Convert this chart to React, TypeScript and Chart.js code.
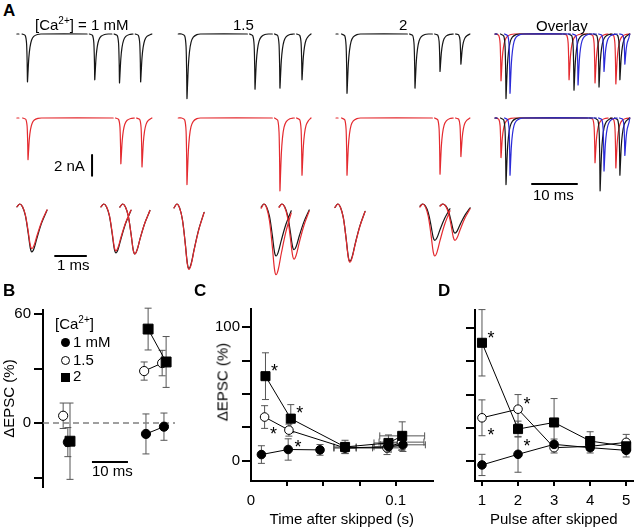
import React, { useEffect, useRef } from "react";
import { Chart, registerables } from "chart.js";

Chart.register(...registerables);

const FONT = "'Liberation Sans', Arial, Helvetica, sans-serif";
Chart.defaults.font.family = FONT;
Chart.defaults.font.size = 15;
Chart.defaults.color = "#000";

// ================= Panel A : EPSC trains =================
// peak time (ms from sweep start) and amplitude (nA)
// Row 1 (regular trains, black)
const row1Time1mM = [2.55, 17.5, 23.0, 27.7];
const row1Amp1mM = [4.6, 4.4, 4.7, 4.6];
const row1Time15mM = [2.44, 17.56, 23.1, 28.0];
const row1Amp15mM = [6.2, 5.3, 5.2, 4.4];
const row1Time2mM = [2.89, 18.0, 23.56, 28.2];
const row1Amp2mM = [5.7, 5.2, 3.6, 2.9];
// Row 2 (trains with a skipped stimulus, red)
const row2Time1mM = [2.67, 23.3, 28.0];
const row2Amp1mM = [4.0, 4.4, 4.7];
const row2Time15mM = [2.44, 23.1, 28.0];
const row2Amp15mM = [6.4, 7.0, 5.5];
const row2Time2mM = [2.89, 23.56, 28.2];
const row2Amp2mM = [5.5, 5.4, 3.7];
// Overlay (red 1 mM, black 1.5 mM, blue 2 mM)
const ovl1TimeRed = [1.78, 16.9, 22.67, 27.3];
const ovl1AmpRed = [4.5, 4.4, 4.7, 4.8];
const ovl1TimeBlack = [2.89, 18.0, 23.56, 28.2];
const ovl1AmpBlack = [6.2, 5.4, 5.1, 4.4];
const ovl1TimeBlue = [3.78, 18.9, 24.67, 29.3];
const ovl1AmpBlue = [5.7, 4.9, 3.6, 2.9];
const ovl2TimeRed = [1.78, 22.67, 27.3];
const ovl2AmpRed = [3.8, 4.3, 4.8];
const ovl2TimeBlack = [2.89, 23.8, 28.2];
const ovl2AmpBlack = [6.4, 7.0, 5.5];
const ovl2TimeBlue = [3.78, 24.67, 29.3];
const ovl2AmpBlue = [5.5, 5.1, 3.6];
// sweep windows (ms) per column
const sweepStart = [0.2, 0.5, 0.45, 0.45];
const sweepEnd = [30.2, 30.0, 30.2, 30.4];
// EPSC waveform (ms from peak, fraction of amplitude)
const epscShapeT = [-1.2, -0.5, -0.2, -0.07, 0, 0.12, 0.3, 0.55, 0.9, 1.4, 2.2, 3.0];
const epscShapeV = [0, -0.03, -0.2, -0.6, -1, -0.8, -0.5, -0.28, -0.13, -0.05, -0.01, 0];

// Row 3 : expanded EPSCs (onset ms, amplitude nA), black = regular, red = after skip
const zoomOnset1mM = [0.16, 2.87, 3.48];
const zoomAmpBlack1mM = [4.6, 4.7, 4.8];
const zoomAmpRed1mM = [4.3, 4.5, 4.8];
const zoomOnset15mM = [0.13, 2.94, 3.52];
const zoomAmpBlack15mM = [6.2, 5.0, 4.4];
const zoomAmpRed15mM = [6.3, 6.8, 5.3];
const zoomOnset2mM = [0.16, 2.9, 3.55];
const zoomAmpBlack2mM = [5.5, 3.5, 2.8];
const zoomAmpRed2mM = [5.6, 5.0, 3.5];
const zoomShapeT = [0, 0.09, 0.18, 0.27, 0.36, 0.43, 0.48, 0.55, 0.65, 0.8, 0.97];
const zoomShapeV = [-0.06, 0, -0.06, -0.24, -0.6, -0.92, -1, -0.93, -0.7, -0.39, -0.13];

// scale bars
const barCurrentNA = 2;
const barTrainMs = 10;
const barZoomMs = 1;
const barBMs = 10;

// ================= Panel B =================
const b1mMTime = [6.9, 28.6, 33.6];
const b1mMVal = [-10.5, -6, -2];
const b1mMErr = [8, 11, 7.5];
const b15Time = [5.6, 28.1, 33.1];
const b15Val = [4, 28.6, 33];
const b15Err = [7, 5, 7];
const b2Time = [7.5, 29.2, 34.2];
const b2Val = [-10, 51.7, 33.6];
const b2Err = [21, 11.5, 14];
const bYTicks = [-30, 0, 30, 60];
const bYLabels = [0, 60];

// ================= Panel C =================
const c1mMTime = [0.0072, 0.0257, 0.0477, 0.065, 0.095, 0.105];
const c1mMVal = [4.7, 8.5, 8.2, 9.7, 10.5, 12];
const c1mMErr = [6.6, 8, 4, 4, 4, 5];
const c1mMTimeErr = [0, 0, 0, 0.0077, 0.01, 0.0155];
const c15Time = [0.0094, 0.0262, 0.065, 0.094, 0.104];
const c15Val = [32.8, 23, 9.7, 9.7, 14];
const c15Err = [8.5, 4.5, 4, 5, 6];
const c15TimeErr = [0, 0, 0.0077, 0.01, 0.0155];
const c2Time = [0.01, 0.0275, 0.065, 0.095, 0.1045];
const c2Val = [63.4, 31.6, 10.4, 13.4, 18.7];
const c2Err = [17.5, 10.5, 5, 6, 10.5];
const c2TimeErr = [0, 0, 0.0077, 0.01, 0.0155];
const c15StarsBelow = [0, 1];
const c2StarsAbove = [0, 1];
const cXTicks = [0, 0.025, 0.05, 0.075, 0.1];
const cXLabels = [0, 0.1];
const cYTicks = [0, 25, 50, 75, 100];
const cYLabels = [0, 100];

// ================= Panel D =================
const dPulse = [1, 2, 3, 4, 5];
const d1mMVal = [-3, 5, 12.5, 10, 8];
const d1mMErr = [8, 13.5, 4, 4, 5];
const d15Val = [32.5, 39, 10, 11, 14];
const d15Err = [13.5, 11, 4, 3, 6];
const d2Val = [89, 24, 29, 15, 11];
const d2Err = [25, 6, 18, 7, 5];
const d15StarsBelow = [0];
const d15StarsAbove = [1];
const d2StarsAbove = [0];
const d2StarsBelow = [1];
const dYTicks = [0, 25, 50, 75, 100];

// ================= styles / layout =================
const BLACK = "#161616";
const RED = "#e42a2f";
const BLUE = "#2a2ad8";
const PX_NA = 10.4;
const PX_MS_TRAIN = 4.5;
const PX_MS_ZOOM = 31;
const COL_X = [16, 176, 334, 493];
const ZOOM_X = [12, 170, 330];
const ROW1 = { top: 24, height: 80, base: 34 };
const ROW2 = { top: 106, height: 92, base: 118 };
const ROW3 = { top: 194, height: 92, base: 204 };

type P = { x: number; y: number | null; ey?: number; ex?: number; star?: string };

function sweepPoints(times: number[], amps: number[], start: number, end: number): P[] {
  const pts: P[] = [];
  const gap = 0.5;
  const lead = epscShapeT[0];
  let segStart = start;
  if (times[0] + lead - start > 0.9) {
    pts.push({ x: start, y: 0 }, { x: start + 0.45, y: 0 }, { x: start + 0.5, y: null });
    segStart = times[0] + lead;
  }
  for (let k = 0; k < times.length; k++) {
    const s = k === 0 ? segStart : times[k] + lead;
    const e = k < times.length - 1 ? times[k + 1] + lead - gap : end;
    pts.push({ x: s, y: 0 });
    for (let i = 0; i < epscShapeT.length; i++) {
      const x = times[k] + epscShapeT[i];
      if (x <= s || x >= e) continue;
      pts.push({ x, y: epscShapeV[i] * amps[k] });
    }
    pts.push({ x: e, y: 0 });
    if (k < times.length - 1) pts.push({ x: e + gap / 2, y: null });
  }
  return pts;
}

function zoomPoints(onsets: number[], amps: number[]): P[] {
  const pts: P[] = [];
  onsets.forEach((t0, k) => {
    if (k > 0) pts.push({ x: t0, y: null });
    zoomShapeT.forEach((dt, i) => pts.push({ x: t0 + dt, y: zoomShapeV[i] * amps[k] }));
  });
  return pts;
}

function traceDs(data: P[], color: string, width = 1.2) {
  return { data, borderColor: color, borderWidth: width, pointRadius: 0, fill: false };
}

function TraceChart(props: {
  origin: number; lead: number; width: number; row: { top: number; height: number; base: number };
  pxPerMs: number; datasets: any[]; tension: number;
}) {
  const ref = useRef<HTMLCanvasElement>(null);
  const { origin, lead, width, row, pxPerMs, tension } = props;
  useEffect(() => {
    const xMin = -lead / pxPerMs;
    const xMax = xMin + width / pxPerMs;
    const yMax = (row.base - row.top) / PX_NA;
    const yMin = yMax - row.height / PX_NA;
    const chart = new Chart(ref.current as HTMLCanvasElement, {
      type: "line",
      data: { datasets: props.datasets },
      options: {
        responsive: false,
        animation: false,
        events: [],
        layout: { padding: 0 },
        spanGaps: false,
        plugins: { legend: { display: false }, tooltip: { enabled: false } },
        scales: {
          x: { type: "linear", display: false, min: xMin, max: xMax },
          y: { type: "linear", display: false, min: yMin, max: yMax },
        },
        elements: { point: { radius: 0 }, line: { tension, borderJoinStyle: "round", borderCapStyle: "round" } },
      },
    } as any);
    return () => chart.destroy();
  }, []);
  return (
    <canvas
      ref={ref}
      width={width}
      height={row.height}
      style={{ position: "absolute", left: origin - lead, top: row.top, width, height: row.height }}
    />
  );
}

// ---------- error bars + asterisks ----------
const errorBarPlugin = {
  id: "errorBars",
  beforeDatasetsDraw(chart: any) {
    const ctx = chart.ctx;
    const xs = chart.scales.x;
    const ys = chart.scales.y;
    const cap = 3.5;
    ctx.save();
    ctx.strokeStyle = "#555";
    ctx.lineWidth = 1;
    chart.data.datasets.forEach((ds: any) => {
      ds.data.forEach((p: P) => {
        if (p.y == null) return;
        const px = xs.getPixelForValue(p.x);
        const py = ys.getPixelForValue(p.y);
        if (p.ey) {
          const t = ys.getPixelForValue(p.y + p.ey);
          const b = ys.getPixelForValue(p.y - p.ey);
          ctx.beginPath();
          ctx.moveTo(px, t); ctx.lineTo(px, b);
          ctx.moveTo(px - cap, t); ctx.lineTo(px + cap, t);
          ctx.moveTo(px - cap, b); ctx.lineTo(px + cap, b);
          ctx.stroke();
        }
        if (p.ex) {
          const l = xs.getPixelForValue(p.x - p.ex);
          const r = xs.getPixelForValue(p.x + p.ex);
          ctx.beginPath();
          ctx.moveTo(l, py); ctx.lineTo(r, py);
          ctx.moveTo(l, py - cap); ctx.lineTo(l, py + cap);
          ctx.moveTo(r, py - cap); ctx.lineTo(r, py + cap);
          ctx.stroke();
        }
      });
    });
    ctx.restore();
  },
};

const starPlugin = {
  id: "stars",
  afterDatasetsDraw(chart: any) {
    const ctx = chart.ctx;
    const xs = chart.scales.x;
    const ys = chart.scales.y;
    const size = 18;
    ctx.save();
    ctx.fillStyle = "#000";
    ctx.font = `${size}px ${FONT}`;
    ctx.textAlign = "center";
    ctx.textBaseline = "alphabetic";
    chart.data.datasets.forEach((ds: any) => {
      ds.data.forEach((p: P) => {
        if (p.y == null || !p.star) return;
        const px = xs.getPixelForValue(p.x);
        const py = ys.getPixelForValue(p.y);
        const dx = 9;
        const dy = p.star === "up" ? -10 : 12;
        ctx.fillText("*", px + dx, py + dy + size * 0.6);
      });
    });
    ctx.restore();
  },
};

function seriesDs(
  xs: number[], ys: number[], errs: number[], style: "filled" | "open" | "square", order: number,
  extra: { xerrs?: number[]; breakAfter?: number; up?: number[]; down?: number[]; big?: boolean } = {}
) {
  const data: P[] = [];
  xs.forEach((x, i) => {
    data.push({
      x, y: ys[i], ey: errs[i], ex: extra.xerrs ? extra.xerrs[i] : 0,
      star: extra.up && extra.up.includes(i) ? "up" : extra.down && extra.down.includes(i) ? "down" : undefined,
    });
    if (extra.breakAfter === i) data.push({ x: (x + xs[i + 1]) / 2, y: null });
  });
  return {
    data,
    showLine: true,
    borderColor: "#000",
    borderWidth: 1,
    tension: 0,
    pointStyle: style === "square" ? "rect" : "circle",
    pointRadius: style === "square" ? (extra.big ? 7 : 6.4) : extra.big ? 4.6 : 4.3,
    pointBackgroundColor: style === "open" ? "#fff" : "#000",
    pointBorderColor: "#000",
    pointBorderWidth: 1,
    order,
  };
}

function axisCommon(ticks: number[], labels: number[], tickLength: number, hideZero = false) {
  return {
    afterBuildTicks: (ax: any) => {
      ax.ticks = ticks.map((v) => ({ value: v }));
    },
    ticks: {
      callback: (v: any) => (labels.includes(v) ? String(v) : ""),
      autoSkip: false,
      maxRotation: 0,
      color: "#000",
      font: { size: 15, family: FONT },
    },
    grid: {
      drawOnChartArea: false,
      drawTicks: true,
      tickLength,
      lineWidth: 2,
      color: (c: any) => (hideZero && c.tick && c.tick.value === 0 ? "rgba(0,0,0,0)" : "#000"),
    },
    border: { display: true, color: "#000", width: 2 },
  };
}

function PanelChart(props: { left: number; top: number; width: number; height: number; make: () => any }) {
  const ref = useRef<HTMLCanvasElement>(null);
  useEffect(() => {
    const chart = new Chart(ref.current as HTMLCanvasElement, props.make());
    return () => chart.destroy();
  }, []);
  const { left, top, width, height } = props;
  return <canvas ref={ref} width={width} height={height} style={{ position: "absolute", left, top, width, height }} />;
}

const baseOptions = {
  responsive: false,
  animation: false,
  events: [],
  spanGaps: false,
  plugins: { legend: { display: false }, tooltip: { enabled: false } },
};

function makeB() {
  const xMax = 132 / 3.6;
  const yA = axisCommon(bYTicks, bYLabels, 9);
  return {
    type: "line",
    data: {
      datasets: [
        seriesDs(b1mMTime, b1mMVal, b1mMErr, "filled", 2, { breakAfter: 0, big: true }),
        seriesDs(b15Time, b15Val, b15Err, "open", 3, { breakAfter: 0, big: true }),
        seriesDs(b2Time, b2Val, b2Err, "square", 1, { breakAfter: 0, big: true }),
        {
          data: [{ x: 0, y: 0 }, { x: xMax, y: 0 }],
          borderColor: "#808080", borderWidth: 1.5, borderDash: [6, 4], pointRadius: 0, order: 9,
        },
        {
          data: [{ x: 13.6, y: -21.5 }, { x: 13.6 + barBMs, y: -21.5 }],
          borderColor: "#000", borderWidth: 2, pointRadius: 0, order: 8,
        },
      ],
    },
    options: {
      ...baseOptions,
      layout: { padding: { top: 12, bottom: 13, right: 10, left: 0 } },
      scales: {
        x: { type: "linear", display: false, min: 0, max: xMax },
        y: {
          type: "linear", min: -35.2, max: 62.2, ...yA,
          ticks: { ...yA.ticks, padding: 3 },
          afterFit: (ax: any) => { ax.width = 43; },
          title: { display: true, text: "ΔEPSC (%)", color: "#000", font: { size: 15, family: FONT }, padding: { top: 1, bottom: 0 } },
        },
      },
    },
    plugins: [errorBarPlugin, starPlugin],
  };
}

function makeC() {
  const yA = axisCommon(cYTicks, cYLabels, 9);
  const xA = axisCommon(cXTicks, cXLabels, 5, true);
  return {
    type: "line",
    data: {
      datasets: [
        seriesDs(c1mMTime, c1mMVal, c1mMErr, "filled", 1, { xerrs: c1mMTimeErr, breakAfter: 2 }),
        seriesDs(c15Time, c15Val, c15Err, "open", 3, { xerrs: c15TimeErr, down: c15StarsBelow }),
        seriesDs(c2Time, c2Val, c2Err, "square", 2, { xerrs: c2TimeErr, up: c2StarsAbove }),
      ],
    },
    options: {
      ...baseOptions,
      layout: { padding: { top: 10, bottom: 0, right: 2, left: 0 } },
      scales: {
        x: {
          type: "linear", min: 0, max: 187 / 1490, ...xA,
          ticks: { ...xA.ticks, padding: 6 },
          afterFit: (ax: any) => { ax.height = 49; },
          title: { display: true, text: "Time after skipped (s)", color: "#000", font: { size: 15, family: FONT }, padding: { top: 0, bottom: 1 } },
        },
        y: {
          type: "linear", min: -15.1, max: 113.7, ...yA,
          ticks: { ...yA.ticks, padding: 2 },
          afterFit: (ax: any) => { ax.width = 61; },
        },
      },
    },
    plugins: [errorBarPlugin, starPlugin],
  };
}

function makeD() {
  const yA = axisCommon(dYTicks, [], 9);
  const xA = axisCommon(dPulse, dPulse, 5);
  return {
    type: "line",
    data: {
      datasets: [
        seriesDs(dPulse, d1mMVal, d1mMErr, "filled", 1),
        seriesDs(dPulse, d15Val, d15Err, "open", 3, { up: d15StarsAbove, down: d15StarsBelow }),
        seriesDs(dPulse, d2Val, d2Err, "square", 2, { up: d2StarsAbove, down: d2StarsBelow }),
      ],
    },
    options: {
      ...baseOptions,
      layout: { padding: { top: 10, bottom: 0, right: 0, left: 0 } },
      scales: {
        x: {
          type: "linear", min: 1 - 7.3 / 37.75, max: 5 + 6.7 / 37.75, ...xA,
          ticks: { ...xA.ticks, padding: 6 },
          afterFit: (ax: any) => { ax.height = 49; },
          title: { display: true, text: "Pulse after skipped", color: "#000", font: { size: 15, family: FONT }, padding: { top: 0, bottom: 1 } },
        },
        y: {
          type: "linear", min: -15.1, max: 113.7, ...yA,
          afterFit: (ax: any) => { ax.width = 45; },
        },
      },
    },
    plugins: [errorBarPlugin, starPlugin],
  };
}

function Txt(props: { x: number; base: number; size?: number; bold?: boolean; children: any }) {
  const size = props.size || 15;
  return (
    <div
      style={{
        position: "absolute", left: props.x, top: props.base - 0.846 * size, fontSize: size,
        lineHeight: `${size}px`, fontFamily: FONT, fontWeight: props.bold ? "bold" : "normal",
        whiteSpace: "nowrap", color: "#000",
      }}
    >
      {props.children}
    </div>
  );
}

const Sup = ({ children }: { children: any }) => (
  <span style={{ fontSize: 10, position: "relative", top: -6, lineHeight: 0 }}>{children}</span>
);

export default function App() {
  const tw = 146;
  return (
    <div style={{ position: "absolute", left: 0, top: 0, width: 640, height: 530, background: "#fff", overflow: "hidden", fontFamily: FONT }}>
      {/* Row 1 */}
      <TraceChart origin={COL_X[0]} lead={4} width={tw} row={ROW1} pxPerMs={PX_MS_TRAIN} tension={0.2}
        datasets={[traceDs(sweepPoints(row1Time1mM, row1Amp1mM, sweepStart[0], sweepEnd[0]), BLACK)]} />
      <TraceChart origin={COL_X[1]} lead={4} width={tw} row={ROW1} pxPerMs={PX_MS_TRAIN} tension={0.2}
        datasets={[traceDs(sweepPoints(row1Time15mM, row1Amp15mM, sweepStart[1], sweepEnd[1]), BLACK)]} />
      <TraceChart origin={COL_X[2]} lead={4} width={tw} row={ROW1} pxPerMs={PX_MS_TRAIN} tension={0.2}
        datasets={[traceDs(sweepPoints(row1Time2mM, row1Amp2mM, sweepStart[2], sweepEnd[2]), BLACK)]} />
      <TraceChart origin={COL_X[3]} lead={4} width={tw} row={ROW1} pxPerMs={PX_MS_TRAIN} tension={0.2}
        datasets={[
          traceDs(sweepPoints(ovl1TimeBlue, ovl1AmpBlue, sweepStart[3], sweepEnd[3]), BLUE),
          traceDs(sweepPoints(ovl1TimeBlack, ovl1AmpBlack, sweepStart[3], sweepEnd[3]), BLACK),
          traceDs(sweepPoints(ovl1TimeRed, ovl1AmpRed, sweepStart[3], sweepEnd[3]), RED),
        ]} />
      {/* Row 2 */}
      <TraceChart origin={COL_X[0]} lead={4} width={tw} row={ROW2} pxPerMs={PX_MS_TRAIN} tension={0.2}
        datasets={[
          traceDs(sweepPoints(row2Time1mM, row2Amp1mM, sweepStart[0], sweepEnd[0]), RED),
          traceDs([{ x: 16.9, y: -3.56 }, { x: 16.9, y: -3.56 - barCurrentNA }], "#000", 2),
        ]} />
      <TraceChart origin={COL_X[1]} lead={4} width={tw} row={ROW2} pxPerMs={PX_MS_TRAIN} tension={0.2}
        datasets={[traceDs(sweepPoints(row2Time15mM, row2Amp15mM, sweepStart[1], sweepEnd[1]), RED)]} />
      <TraceChart origin={COL_X[2]} lead={4} width={tw} row={ROW2} pxPerMs={PX_MS_TRAIN} tension={0.2}
        datasets={[traceDs(sweepPoints(row2Time2mM, row2Amp2mM, sweepStart[2], sweepEnd[2]), RED)]} />
      <TraceChart origin={COL_X[3]} lead={4} width={tw} row={ROW2} pxPerMs={PX_MS_TRAIN} tension={0.2}
        datasets={[
          traceDs(sweepPoints(ovl2TimeBlue, ovl2AmpBlue, sweepStart[3], sweepEnd[3]), BLUE),
          traceDs(sweepPoints(ovl2TimeBlack, ovl2AmpBlack, sweepStart[3], sweepEnd[3]), BLACK),
          traceDs(sweepPoints(ovl2TimeRed, ovl2AmpRed, sweepStart[3], sweepEnd[3]), RED),
          traceDs([{ x: 8.67, y: -6.35 }, { x: 8.67 + barTrainMs, y: -6.35 }], "#000", 2),
        ]} />
      {/* Row 3 */}
      <TraceChart origin={ZOOM_X[0]} lead={0} width={150} row={ROW3} pxPerMs={PX_MS_ZOOM} tension={0.35}
        datasets={[
          traceDs(zoomPoints(zoomOnset1mM, zoomAmpRed1mM), RED),
          traceDs(zoomPoints(zoomOnset1mM, zoomAmpBlack1mM), BLACK),
          traceDs([{ x: 1.39, y: -5.0 }, { x: 1.39 + barZoomMs, y: -5.0 }], "#000", 2),
        ]} />
      <TraceChart origin={ZOOM_X[1]} lead={0} width={150} row={ROW3} pxPerMs={PX_MS_ZOOM} tension={0.35}
        datasets={[
          traceDs(zoomPoints(zoomOnset15mM, zoomAmpRed15mM), RED),
          traceDs(zoomPoints(zoomOnset15mM, zoomAmpBlack15mM), BLACK),
        ]} />
      <TraceChart origin={ZOOM_X[2]} lead={0} width={150} row={ROW3} pxPerMs={PX_MS_ZOOM} tension={0.35}
        datasets={[
          traceDs(zoomPoints(zoomOnset2mM, zoomAmpRed2mM), RED),
          traceDs(zoomPoints(zoomOnset2mM, zoomAmpBlack2mM), BLACK),
        ]} />

      {/* Panel A text */}
      <Txt x={3} base={16} size={17} bold>A</Txt>
      <Txt x={35} base={30}>[Ca<Sup>2+</Sup>] = 1 mM</Txt>
      <Txt x={233} base={30}>1.5</Txt>
      <Txt x={399} base={30}>2</Txt>
      <Txt x={536} base={31}>Overlay</Txt>
      <Txt x={54} base={171}>2 nA</Txt>
      <Txt x={533} base={200}>10 ms</Txt>
      <Txt x={57} base={270}>1 ms</Txt>

      {/* Panels B-D */}
      <PanelChart left={0} top={298} width={185} height={202} make={makeB} />
      <PanelChart left={190} top={298} width={250} height={232} make={makeC} />
      <PanelChart left={430} top={298} width={210} height={232} make={makeD} />

      <Txt x={3} base={296} size={17} bold>B</Txt>
      <Txt x={194} base={296} size={17} bold>C</Txt>
      <Txt x={438} base={296} size={17} bold>D</Txt>

      {/* B legend */}
      <Txt x={55} base={329}>[Ca<Sup>2+</Sup>]</Txt>
      <div style={{ position: "absolute", left: 60.5, top: 337.5, width: 9, height: 9, borderRadius: "50%", background: "#000" }} />
      <Txt x={73} base={347}>1 mM</Txt>
      <div style={{ position: "absolute", left: 60.5, top: 355.5, width: 7, height: 7, borderRadius: "50%", background: "#fff", border: "1px solid #000" }} />
      <Txt x={73} base={365}>1.5</Txt>
      <div style={{ position: "absolute", left: 60.5, top: 372.5, width: 9, height: 9, background: "#000" }} />
      <Txt x={73} base={381}>2</Txt>
      <Txt x={92} base={476}>10 ms</Txt>

      {/* C y title */}
      <div
        style={{
          position: "absolute", left: 222, top: 382, transform: "translate(-50%, -50%) rotate(-90deg)",
          fontSize: 15, fontFamily: FONT, whiteSpace: "nowrap", color: "#000",
        }}
      >
        ΔEPSC (%)
      </div>
    </div>
  );
}
